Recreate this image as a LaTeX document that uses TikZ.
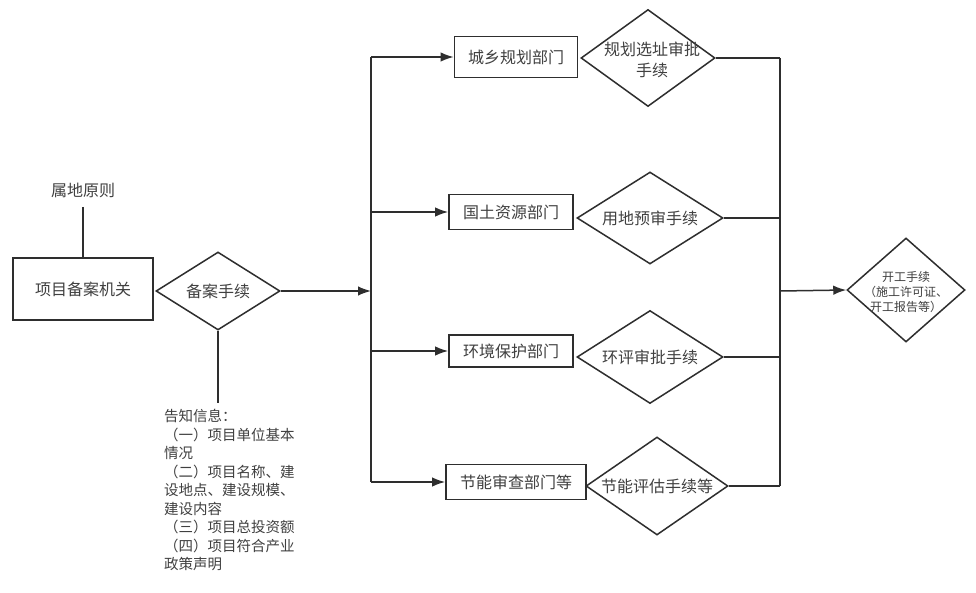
\documentclass[tikz,border=0pt]{standalone}
\usepackage{fontspec}
\setmainfont{Noto Sans CJK SC}
\usetikzlibrary{shapes.geometric,arrows.meta}
\definecolor{ln}{HTML}{2E2E2E}
\definecolor{tx}{HTML}{404040}
\tikzset{
  boxn/.style={draw=ln, line width=1.8pt, rectangle, inner sep=0pt, text=tx, font=\fontsize{16}{18}\selectfont},
  dia/.style={draw=ln, line width=1.5pt, diamond, inner sep=0pt},
  dtext/.style={text=tx, align=center, inner sep=0pt, font=\fontsize{16}{21}\selectfont},
  plain/.style={draw=ln, line width=1.5pt},
  arr/.style={draw=ln, line width=1.5pt, -{Latex[length=13pt,width=9.5pt]}},
}
\begin{document}
\begin{tikzpicture}[x=1pt,y=-1pt]
\path[fill=white, use as bounding box] (0,0) rectangle (976,593);

% left part
\node[text=tx, inner sep=0pt, font=\fontsize{16}{18}\selectfont] (rule) at (83,190) {属地原则};
\node[boxn, minimum width=140pt, minimum height=62pt] (b0) at (83,289) {项目备案机关};
\node[dia, minimum width=124pt, minimum height=78pt] (d0) at (218,291) {};
\node[dtext] (t0) at (d0) {备案手续};
\node[text=tx, inner sep=0pt, anchor=north west, text width=140pt, align=left,
      font=\fontsize{14.5}{18.5}\selectfont] (info) at (164,409)
  {告知信息：\\（一）项目单位基本\\情况\\（二）项目名称、建\\设地点、建设规模、\\建设内容\\（三）项目总投资额\\（四）项目符合产业\\政策声明};

\draw[plain] (rule.south |- 0,207) -- (b0.north);
\draw[plain] (d0.south) -- (d0.south |- 0,403);

% split
\coordinate (sp) at (371,291);
\coordinate (vt) at (371,57);
\coordinate (vb) at (371,482);
\draw[arr] (d0.east) -- (sp);

% boxes
\node[boxn, minimum width=123pt, minimum height=41pt] (b1) at (516,57) {城乡规划部门};
\node[boxn, minimum width=124pt, minimum height=35pt] (b2) at (511,212) {国土资源部门};
\node[boxn, minimum width=124pt, minimum height=32pt] (b3) at (511,351) {环境保护部门};
\node[boxn, minimum width=140pt, minimum height=35pt] (b4) at (516,482) {节能审查部门等};

\draw[plain] (vt) -- (vb);
\draw[arr] (vt) -- (b1.west);
\draw[arr] (vt |- b2.west) -- (b2.west);
\draw[arr] (vt |- b3.west) -- (b3.west);
\draw[arr] (vb) -- (b4.west);

% diamonds
\node[dia, minimum width=134pt, minimum height=97pt] (d1) at (648,58) {};
\node[dtext] (t1) at (652,60) {规划选址审批\\手续};
\node[dia, minimum width=146pt, minimum height=92pt] (d2) at (650,218) {};
\node[dtext] (t2) at (d2) {用地预审手续};
\node[dia, minimum width=146pt, minimum height=93pt] (d3) at (650,357) {};
\node[dtext] (t3) at (d3) {环评审批手续};
\node[dia, minimum width=142pt, minimum height=98pt] (d4) at (657,486) {};
\node[dtext] (t4) at (d4) {节能评估手续等};

% right side
\coordinate (rx) at (780,291);
\draw[plain] (d1.east) -- (d1.east -| rx);
\draw[plain] (d2.east) -- (d2.east -| rx);
\draw[plain] (d3.east) -- (d3.east -| rx);
\draw[plain] (d4.east) -- (d4.east -| rx);
\draw[plain] (d1.east -| rx) -- (d4.east -| rx);

\node[dia, minimum width=118pt, minimum height=104pt] (fin) at (906,290) {};
\node[dtext, font=\fontsize{12}{15}\selectfont] (tf) at (906,292) {开工手续\\（施工许可证、\\开工报告等）};
\draw[arr] (rx) -- (fin.west);
\end{tikzpicture}
\end{document}
